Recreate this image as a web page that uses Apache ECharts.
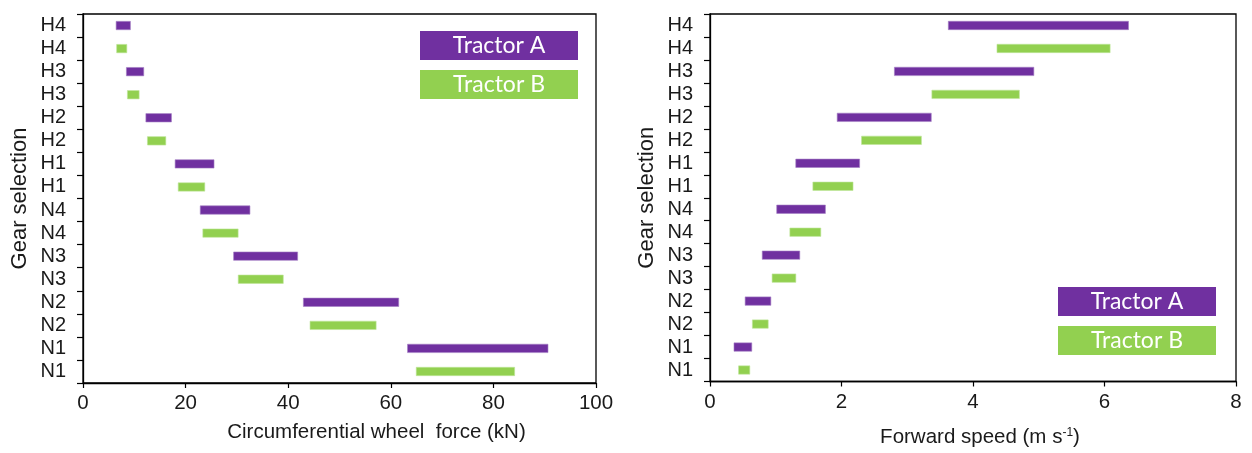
<!DOCTYPE html>
<html>
<head>
<meta charset="utf-8">
<style>
  html, body { margin: 0; padding: 0; background: #fff; }
  #chart { width: 1252px; height: 453px; }
</style>
<script src="https://cdn.jsdelivr.net/npm/echarts@6/dist/echarts.min.js"></script>
</head>
<body>
<div id="chart"></div>
<script>
// Gear order from lowest (bottom) to highest (top)
const gears = ['N1', 'N2', 'N3', 'N4', 'H1', 'H2', 'H3', 'H4'];

// Circumferential wheel force ranges (kN): start / end per gear
const forceAStart = [63.2, 42.9, 29.3, 22.8, 17.9, 12.2, 8.4, 6.4];
const forceAEnd   = [90.7, 61.6, 41.9, 32.6, 25.6, 17.3, 11.9, 9.3];
const forceBStart = [64.9, 44.2, 30.2, 23.3, 18.5, 12.5, 8.6, 6.5];
const forceBEnd   = [84.2, 57.2, 39.1, 30.3, 23.8, 16.2, 11.0, 8.6];

// Forward speed ranges (m/s): start / end per gear
const speedAStart = [0.36, 0.53, 0.79, 1.01, 1.30, 1.93, 2.80, 3.62];
const speedAEnd   = [0.64, 0.93, 1.37, 1.76, 2.28, 3.37, 4.93, 6.37];
const speedBStart = [0.43, 0.64, 0.94, 1.21, 1.56, 2.30, 3.37, 4.36];
const speedBEnd   = [0.61, 0.89, 1.31, 1.69, 2.18, 3.22, 4.71, 6.09];

const tractorNames = ['Tractor A', 'Tractor B'];
const forceTicks = { min: 0, max: 100, interval: 20 };
const speedTicks = { min: 0, max: 8, interval: 2 };

const COLOR_A = '#7030A0';
const COLOR_B = '#92D050';
const FONT = '"Liberation Sans", Arial, sans-serif';
const TEXT = '#1a1a1a';

// Each gear gets two rows: Tractor B below, Tractor A above
const rowLabels = [];
gears.forEach(g => { rowLabels.push(g, g); });

function buildRows(aStart, aEnd, bStart, bEnd) {
  const base = [], a = [], b = [];
  gears.forEach((g, i) => {
    base.push(bStart[i]); a.push('-'); b.push(+(bEnd[i] - bStart[i]).toFixed(3));
    base.push(aStart[i]); a.push(+(aEnd[i] - aStart[i]).toFixed(3)); b.push('-');
  });
  return { base, a, b };
}

const forceRows = buildRows(forceAStart, forceAEnd, forceBStart, forceBEnd);
const speedRows = buildRows(speedAStart, speedAEnd, speedBStart, speedBEnd);

const grids = [
  { left: 83, top: 14, width: 513, height: 369 },
  { left: 710, top: 14, width: 526, height: 369 }
];

// nameShift nudges the axis title right of the axis centre
function xAxisFor(idx, ticks, name, nameGap, nameShift) {
  return {
    type: 'value', gridIndex: idx,
    min: ticks.min, max: ticks.max, interval: ticks.interval,
    name: name, nameLocation: 'middle', nameGap: nameGap,
    nameTextStyle: {
      color: TEXT, fontFamily: FONT, fontSize: 20.5,
      padding: [0, 0, 0, nameShift * 2],
      rich: { sup: { fontSize: 12, fontFamily: FONT, color: TEXT, verticalAlign: 'top', padding: [0, 0, 10, 0] } }
    },
    axisLine: { show: true, lineStyle: { color: '#000', width: 1.3 } },
    axisTick: { show: true, length: 5, lineStyle: { color: '#000', width: 1.2 } },
    axisLabel: { color: TEXT, fontFamily: FONT, fontSize: 20.5, margin: 10 },
    splitLine: { show: false }
  };
}

function yAxisFor(idx) {
  return {
    type: 'category', gridIndex: idx, data: rowLabels,
    name: 'Gear selection', nameLocation: 'middle', nameGap: 52, nameRotate: 90,
    nameTextStyle: { color: TEXT, fontFamily: FONT, fontSize: 22 },
    axisLine: { show: true, lineStyle: { color: '#000', width: 1.3 } },
    axisTick: { show: true, length: 6, lineStyle: { color: '#000', width: 1.2 } },
    axisLabel: { color: TEXT, fontFamily: FONT, fontSize: 20, margin: 17, interval: 0 },
    splitLine: { show: false }
  };
}

function seriesFor(idx, rows) {
  const common = {
    type: 'bar', xAxisIndex: idx, yAxisIndex: idx, stack: 'range' + idx,
    barWidth: 9, silent: true
  };
  return [
    Object.assign({}, common, { name: 'base', data: rows.base, itemStyle: { color: 'transparent' } }),
    Object.assign({}, common, { name: tractorNames[0], data: rows.a,
      itemStyle: { color: COLOR_A, borderColor: '#a57fc4', borderWidth: 0.6 } }),
    Object.assign({}, common, { name: tractorNames[1], data: rows.b,
      itemStyle: { color: COLOR_B, borderColor: '#c0e69a', borderWidth: 0.6 } })
  ];
}

function legendBox(x, y, label, color) {
  return [
    { type: 'rect', left: x, top: y, shape: { width: 158, height: 29 }, style: { fill: color } },
    { type: 'text', x: x + 79, y: y + 15,
      style: { text: label, fill: '#fff', font: '23px Lato, "Open Sans", sans-serif',
               align: 'center', verticalAlign: 'middle' } }
  ];
}

const chart = echarts.init(document.getElementById('chart'), null, { renderer: 'canvas' });
chart.setOption({
  animation: false,
  backgroundColor: '#fff',
  grid: grids.map(g => Object.assign({ show: true, borderColor: '#000', borderWidth: 1.3, backgroundColor: 'transparent' }, g)),
  xAxis: [
    xAxisFor(0, forceTicks, 'Circumferential wheel  force (kN)', 39, 37),
    xAxisFor(1, speedTicks, 'Forward speed (m s{sup|-1})', 45, 7)
  ],
  yAxis: [yAxisFor(0), yAxisFor(1)],
  series: [].concat(seriesFor(0, forceRows), seriesFor(1, speedRows)),
  graphic: [].concat(
    legendBox(420, 31, tractorNames[0], COLOR_A),
    legendBox(420, 70, tractorNames[1], COLOR_B),
    legendBox(1058, 287, tractorNames[0], COLOR_A),
    legendBox(1058, 326, tractorNames[1], COLOR_B)
  )
});
</script>
</body>
</html>
